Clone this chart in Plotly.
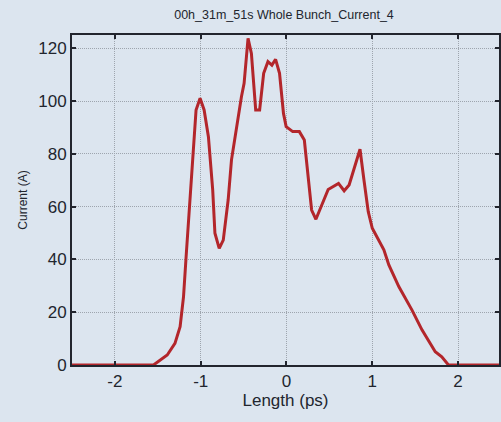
import plotly.graph_objects as go

# Bunch current profile
length_ps = [-2.5, -1.55, -1.39, -1.30, -1.24, -1.20, -1.17, -1.14, -1.09, -1.054, -1.007,
             -0.96, -0.91, -0.86, -0.834, -0.784, -0.737, -0.68, -0.641, -0.583, -0.525,
             -0.494, -0.448, -0.409, -0.359, -0.313, -0.266, -0.216, -0.17, -0.127, -0.081,
             -0.035, -0.004, 0.073, 0.15, 0.208, 0.247, 0.293, 0.343, 0.401, 0.486, 0.606,
             0.672, 0.73, 0.807, 0.857, 0.903, 0.953, 1.0, 1.135, 1.193, 1.309, 1.463,
             1.579, 1.734, 1.81, 1.888, 2.5]
current_a = [0, 0, 3.8, 8.2, 14.5, 25.9, 41, 56, 80, 96.6, 101,
             96.6, 86.5, 66.3, 49.9, 44.2, 47.3, 62.5, 77.7, 90.3, 101.6,
             106.7, 123.7, 118, 96.6, 96.6, 110.5, 114.9, 113.6, 115.8, 110.5,
             95.3, 90.3, 88.4, 88.4, 85.2, 73.9, 58.7, 55.2, 60, 66.5, 68.8,
             66, 68.2, 76.4, 81.7, 70.1, 58.1, 51.8, 43.6, 37.9, 29.7, 20.8,
             13.3, 5.0, 3.1, 0, 0]

x_ticks = [-2, -1, 0, 1, 2]
y_ticks = [0, 20, 40, 60, 80, 100, 120]

bg = "#dce5ef"
ink = "#22252e"
font_family = "Liberation Sans, Arial, sans-serif"

fig = go.Figure(
    go.Scatter(x=length_ps, y=current_a, mode="lines",
               line=dict(color="#b3262b", width=3), hoverinfo="skip")
)

axis_common = dict(
    showline=True, linecolor=ink, linewidth=2, mirror="ticks",
    ticks="inside", ticklen=4, tickwidth=1.5, tickcolor=ink,
    showgrid=True, gridcolor="#9ea5ae", griddash="1px,1px", gridwidth=1,
    zeroline=False, tickfont=dict(size=17, color=ink, family=font_family),
)

fig.update_xaxes(range=[-2.5, 2.477], tickvals=x_ticks,
                 ticktext=[str(v) for v in x_ticks],
                 title=dict(text="Length (ps)", standoff=4,
                            font=dict(size=17, color=ink, family=font_family)),
                 **axis_common)
fig.update_yaxes(range=[0, 125], tickvals=y_ticks,
                 title=dict(text="Current (A)", standoff=8,
                            font=dict(size=12, color=ink, family=font_family)),
                 **axis_common)

fig.update_layout(
    width=501, height=422,
    margin=dict(l=72, r=0, t=35, b=57),
    paper_bgcolor=bg, plot_bgcolor=bg,
    showlegend=False,
    title=dict(text="00h_31m_51s Whole Bunch_Current_4",
               x=284 / 501, xanchor="center", y=1 - 15 / 422, yanchor="middle",
               font=dict(size=12.5, color=ink, family=font_family)),
)

fig.write_html("out.html")
